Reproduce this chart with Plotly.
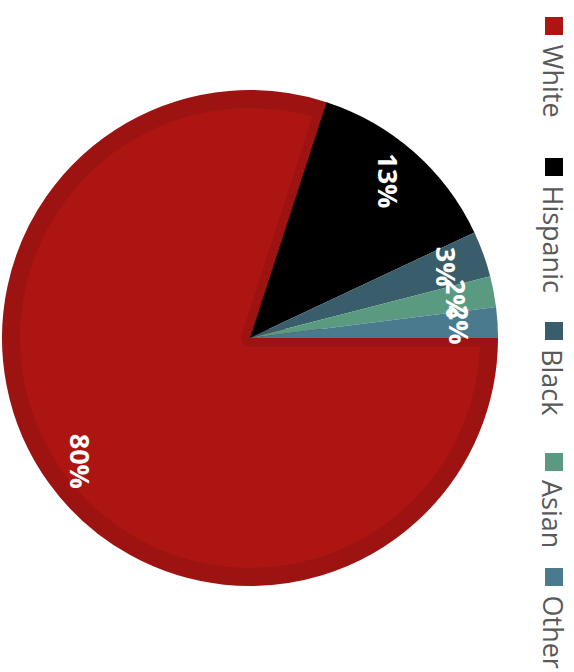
import plotly.graph_objects as go
import math

# Population share by race / ethnicity (percent)
groups = ["White", "Hispanic", "Black", "Asian", "Other"]
shares = [80, 13, 3, 2, 2]

colors = ["#AC1512", "#000000", "#3A5D6B", "#5A9A80", "#4A7A8E"]
white_edge = "#9D1311"

W, H = 574, 672
cx, cy, r = 250, 338, 248      # pie centre / radius in pixels (from top-left)
band = 9                       # inner edge band on the largest slice


def dom(radius):
    x0 = (cx - radius) / W
    x1 = (cx + radius) / W
    yb = H - cy
    y0 = (yb - radius) / H
    y1 = (yb + radius) / H
    return dict(x=[x0, x1], y=[y0, y1])


fig = go.Figure()

# Underlay: largest slice with a darker stroke that forms an inner band
fig.add_trace(go.Pie(
    labels=groups, values=shares, sort=False, direction="clockwise", rotation=90,
    domain=dom(r - band),
    marker=dict(colors=[colors[0]] + ["rgba(0,0,0,0)"] * 4,
                line=dict(color=[white_edge] + ["rgba(0,0,0,0)"] * 4,
                          width=[2 * band, 0, 0, 0, 0])),
    textinfo="none", hoverinfo="label+percent", showlegend=False,
))

# Remaining slices at full radius on top
fig.add_trace(go.Pie(
    labels=groups, values=shares, sort=False, direction="clockwise", rotation=90,
    domain=dom(r),
    marker=dict(colors=["rgba(0,0,0,0)"] + colors[1:], line=dict(width=0)),
    textinfo="none", hoverinfo="label+percent", showlegend=False,
))

annotations = []
total = sum(shares)
cum = 0.0
k = 0.845
for g, v in zip(groups, shares):
    mid = 360.0 * (cum + v / 2.0) / total   # clockwise from 3 o'clock
    cum += v
    px = cx + k * r * math.cos(math.radians(mid))
    py = cy + k * r * math.sin(math.radians(mid))
    annotations.append(dict(
        x=px / W, y=1 - py / H, xref="paper", yref="paper",
        text=f"<b>{round(100 * v / total)}%</b>", showarrow=False, textangle=90,
        font=dict(family="Open Sans", size=27, color="#FFFFFF"),
        xanchor="center", yanchor="middle",
    ))

# Vertical legend along the right edge
legend_top = [17, 158, 322, 453, 568]
sq = 18
lx = 554
shapes = []
for g, c, top in zip(groups, colors, legend_top):
    shapes.append(dict(type="rect", xref="paper", yref="paper",
                       x0=(lx - sq / 2) / W, x1=(lx + sq / 2) / W,
                       y0=1 - (top + sq) / H, y1=1 - top / H,
                       fillcolor=c, line=dict(width=0)))
    annotations.append(dict(
        x=(lx - 1) / W, y=1 - (top + sq + 7) / H, xref="paper", yref="paper",
        text=g, showarrow=False, textangle=90,
        font=dict(family="Open Sans", size=27, color="#595959"),
        xanchor="center", yanchor="top",
    ))

fig.update_layout(
    width=W, height=H,
    margin=dict(l=0, r=0, t=0, b=0),
    paper_bgcolor="#FFFFFF", plot_bgcolor="#FFFFFF",
    annotations=annotations, shapes=shapes,
    showlegend=False,
)

fig.write_html("out.html")
